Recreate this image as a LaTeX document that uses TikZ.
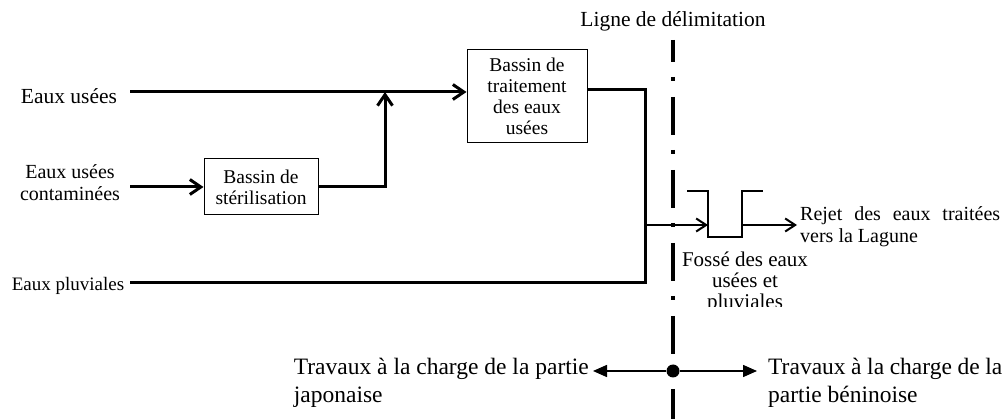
\documentclass[tikz,border=0pt]{standalone}
\usepackage{fontspec}
\setmainfont{Liberation Serif}
\usetikzlibrary{arrows.meta}

\tikzset{
  lbl/.style={inner sep=0pt, align=center, font=\fontsize{20}{22}\selectfont},
  bassin/.style={draw, line width=1pt, align=center, inner sep=0pt, font=\fontsize{19.5}{21}\selectfont},
  flow/.style={line width=3pt},
  barb/.style={-{Straight Barb[length=11pt,width=15pt]}},
  thinbarb/.style={line width=2pt, -{Straight Barb[length=10pt,width=13pt]}},
  partie/.style={line width=1.5pt, -{Triangle[length=14pt,width=12pt]}},
  limite/.style={line width=4.5pt, dash pattern=on 38pt off 15pt on 4pt off 16pt, dash phase=16pt}
}

\begin{document}
\begin{tikzpicture}[x=1pt, y=-1pt]
        \useasboundingbox (0,0) rectangle (1007,419);

        % entrees
        \node[lbl, font=\fontsize{21.5}{24}\selectfont] (eu) at (69,96) {Eaux us\'ees};
        \node[lbl] (euc) at (70,183) {Eaux us\'ees\\contamin\'ees};
        \node[lbl, font=\fontsize{19}{21}\selectfont] (ep) at (68,286) {Eaux pluviales};

        % bassins
        \node[bassin, minimum width=114pt, minimum height=56pt] (bs) at (261,187) {Bassin de\\st\'erilisation};
        \node[bassin, minimum width=120pt, minimum height=93pt] (tb) at (527,96.5) {Bassin de\\traitement\\des eaux\\us\'ees};

        \coordinate (euS) at (130,92);
        \coordinate (eucS) at (130,187);
        \coordinate (epS) at (130,283);
        \coordinate (j) at (385,92);
        \coordinate (k) at (645,225);

        \draw[flow, barb] (euS) -- (euS -| tb.west);
        \draw[flow, barb] (eucS) -- (bs.west);
        \draw[flow, barb] (bs.east) -| (j);
        \draw[flow] ([yshift=6.5pt]tb.east) -| (k);
        \draw[flow] (epS) -| (k);

        % fosse
        \coordinate (fin) at (708,225);
        \coordinate (fout) at (742,225);
        \coordinate (rj) at (797,225);
        \draw[line width=1.5pt] (687,191) -- (708,191) -- (708,237) -- (742,237) -- (742,191) -- (763,191);
        \draw[thinbarb] (k) -- (fin);
        \draw[thinbarb] (fout) -- (rj);

        \node[lbl, anchor=west, align=left] (rejet) at (800,227) {\makebox[200pt][s]{Rejet des eaux trait\'ees}\\vers la Lagune};
        \begin{scope}
          \clip (680,240) rectangle (830,307);
          \node[lbl, font=\fontsize{21}{21}\selectfont] (fosse) at (745,282) {Foss\'e des eaux\\us\'ees et\\pluviales};
        \end{scope}

        % ligne de delimitation
        \node[lbl, font=\fontsize{21.5}{24}\selectfont] (ligne) at (673,21) {Ligne de d\'elimitation};
        \coordinate (lh) at (673,40);
        \coordinate (lb) at (673,419);
        \draw[limite] (lh) -- (lb);

        \node[circle, fill, inner sep=0pt, minimum size=13pt] (c) at (673,371) {};
        \coordinate (ga) at (593,371);
        \coordinate (dr) at (757,371);
        \draw[partie] (c) -- (ga);
        \draw[partie] (c) -- (dr);

        \node[lbl, anchor=east, align=left, font=\fontsize{23.5}{27.5}\selectfont] (jap) at ([xshift=-4pt,yshift=-12pt]ga) {Travaux \`a la charge de la partie\\japonaise};
        \node[lbl, anchor=west, align=left, font=\fontsize{23.5}{27.5}\selectfont] (ben) at ([xshift=11pt,yshift=-12pt]dr) {\makebox[234pt][s]{Travaux \`a la charge de la}\\partie b\'eninoise};
\end{tikzpicture}
\end{document}
